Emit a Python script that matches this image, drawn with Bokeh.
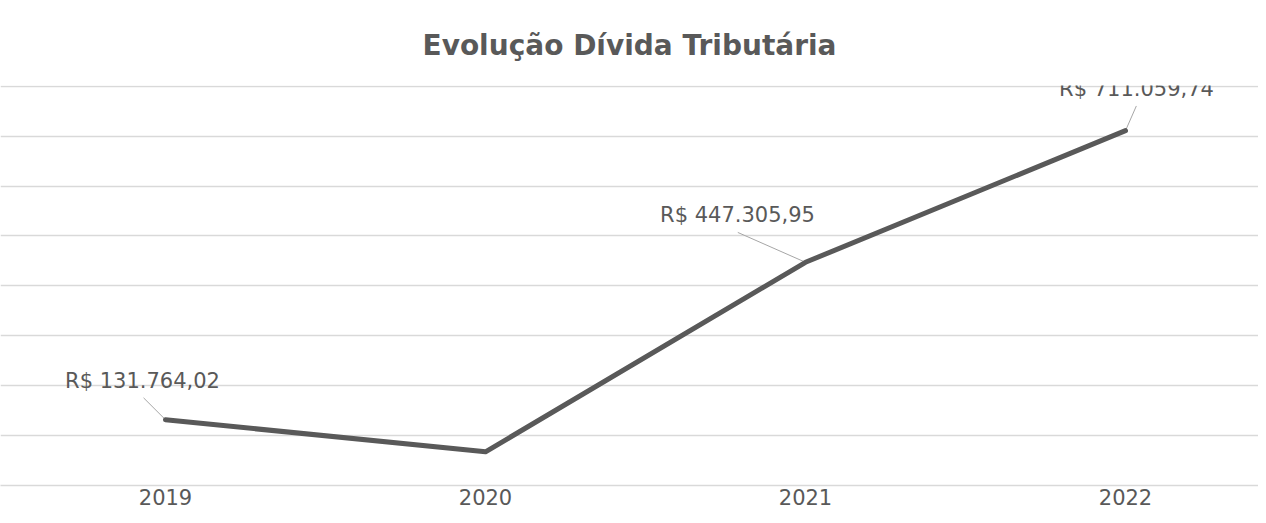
import math
from bokeh.plotting import figure
from bokeh.models import Range1d, FixedTicker, SingleIntervalTicker, ColumnDataSource
from bokeh.core.properties import value
from bokeh.embed import file_html
from bokeh.resources import INLINE

# ---- data ----
title_text = "Evolução Dívida Tributária"
years = ["2019", "2020", "2021", "2022"]
debt = [131764.02, 67500.00, 447305.95, 711059.74]
show_label = [True, False, True, True]

# ---- label placement (styling, in screen pixels) ----
label_dx = [-23, 0, -68, 11]
label_dy = [-39, 0, -47, -42]
leader_angle_deg = [135, 0, 156.2, 66.3]
leader_len = [31, 0, 74, 27]


def brl(v):
    s = f"{v:,.2f}"
    s = s.replace(",", "X").replace(".", ",").replace("X", ".")
    return "R$ " + s


xs = list(range(len(years)))
FONT = "DejaVu Sans"
GREY = "#595959"

p = figure(width=1258, height=515, output_backend="svg", toolbar_location=None,
           x_range=Range1d(-0.5156, 3.4156), y_range=Range1d(0, 801600),
           min_border_left=0, min_border_right=0, min_border_top=85, min_border_bottom=30,
           title=title_text)
p.outline_line_color = None
p.background_fill_color = "white"
p.border_fill_color = "white"

p.title.align = "center"
p.title.text_font = FONT
p.title.text_font_size = "28px"
p.title.text_font_style = "bold"
p.title.text_color = GREY
p.title.standoff = 48
p.title.offset = 0

p.yaxis.visible = False
p.xgrid.visible = False
p.ygrid.ticker = SingleIntervalTicker(interval=100000)
p.ygrid.grid_line_color = "#d9d9d9"
p.ygrid.grid_line_width = 1.5

p.xaxis.ticker = FixedTicker(ticks=xs)
p.xaxis.major_label_overrides = {i: y for i, y in enumerate(years)}
p.xaxis.major_tick_line_color = None
p.xaxis.minor_tick_line_color = None
p.xaxis.major_tick_out = 0
p.xaxis.major_tick_in = 0
p.xaxis.axis_line_color = "#d9d9d9"
p.xaxis.axis_line_width = 1.5
p.xaxis.major_label_text_font = FONT
p.xaxis.major_label_text_font_size = "21px"
p.xaxis.major_label_text_color = GREY
p.xaxis.major_label_standoff = 3

# leader lines
lx, ly, la, ll = [], [], [], []
for i in xs:
    if show_label[i]:
        lx.append(xs[i]); ly.append(debt[i])
        la.append(math.radians(leader_angle_deg[i])); ll.append(leader_len[i])
p.ray(x=lx, y=ly, angle=la, length=ll, length_units="screen",
      line_color="#a6a6a6", line_width=1)

# main line
p.line(xs, debt, line_color=GREY, line_width=5, line_join="round", line_cap="round")

# data labels
src = ColumnDataSource(dict(
    x=[xs[i] for i in xs if show_label[i]],
    y=[debt[i] for i in xs if show_label[i]],
    t=[brl(debt[i]) for i in xs if show_label[i]],
    dx=[label_dx[i] for i in xs if show_label[i]],
    dy=[label_dy[i] for i in xs if show_label[i]],
))
p.text(x="x", y="y", text="t", x_offset="dx", y_offset="dy", source=src,
       text_align="center", text_baseline="middle",
       text_font=value(FONT), text_font_size="21px", text_color=GREY)

open("out.html", "w").write(file_html(p, INLINE))
